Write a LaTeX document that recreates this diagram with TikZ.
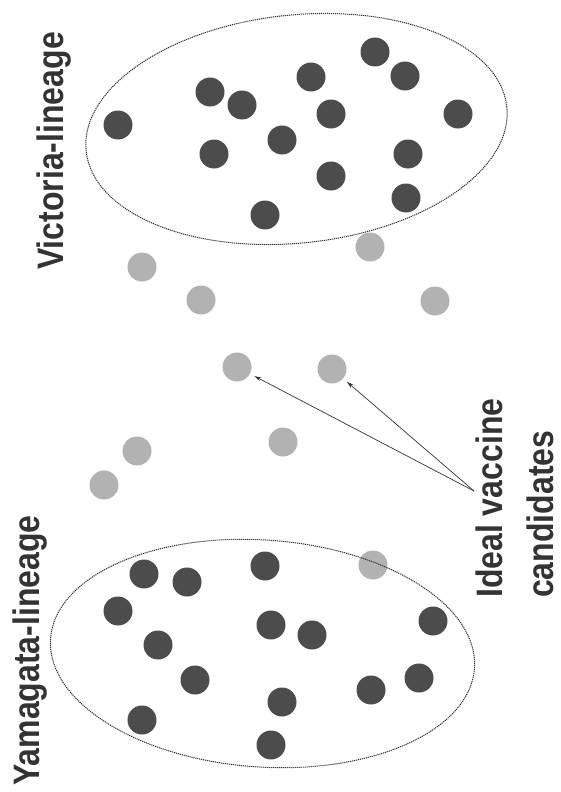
\documentclass[tikz,border=0pt]{standalone}
\usepackage{fontspec}
\setmainfont{Liberation Sans}
\usetikzlibrary{arrows.meta}
\definecolor{ink}{gray}{0.2}
\definecolor{strain}{gray}{0.3}
\definecolor{cand}{gray}{0.7}
\newcommand{\tall}[1]{\scalebox{1}[1.15]{#1}}

\begin{document}
\begin{tikzpicture}[x=1pt,y=-1pt,
  d/.style={circle,inner sep=0pt,minimum size=29pt},
  s/.style={d,fill=strain},
  c/.style={d,fill=cand},
  ring/.style={ink,line width=1pt,dash pattern=on 1.2pt off 0.8pt},
  lbl/.style={rotate=90,anchor=north west,inner sep=0pt,text=ink,font=\bfseries\fontsize{32}{51}\selectfont},
  arr/.style={-{Stealth[length=7pt,width=4pt]},ink,line width=0.7pt,shorten >=5pt}]
\useasboundingbox (0,0) rectangle (561,792);
% strains of the two lineages
\foreach \x/\y [count=\i] in {118/125,210/92,242/105,214/154,265/215,282/140,375/52,311/77,
  405/76,331/114,458/114,408/154,331/176,406/198}
  \node[s] (v\i) at (\x,\y) {};
\foreach \x/\y [count=\i] in {144/574,187/582,118/611,158/645,195/680,142/720,265/566,271/625,
  312/635,433/621,419/678,371/690,282/702,271/745}
  \node[s] (y\i) at (\x,\y) {};
% strains in between
\foreach \x/\y [count=\i] in {142/267,201/300,370/247,435/301,237/367,332/369,283/442,137/451,
  104/485,373/565}
  \node[c] (c\i) at (\x,\y) {};
\draw[ring,rotate around={6:(296.5,129)}] (296.5,129) ellipse [x radius=211.5pt,y radius=114pt];
\draw[ring,rotate around={-4:(262.5,653.5)}] (262.5,653.5) ellipse [x radius=212.5pt,y radius=113.5pt];
\node[lbl] (vic) at (37,270) {\tall{Victoria-lineage}};
\node[lbl] (yam) at (13,786) {\tall{Yamagata-lineage}};
\node[lbl,align=left] (ideal) at (476,598) {\tall{Ideal vaccine}\\\tall{candidates}};
\coordinate (tail) at (474,491);
\draw[arr] (tail) -- (c5);
\draw[arr] (tail) -- (c6);
\end{tikzpicture}
\end{document}
